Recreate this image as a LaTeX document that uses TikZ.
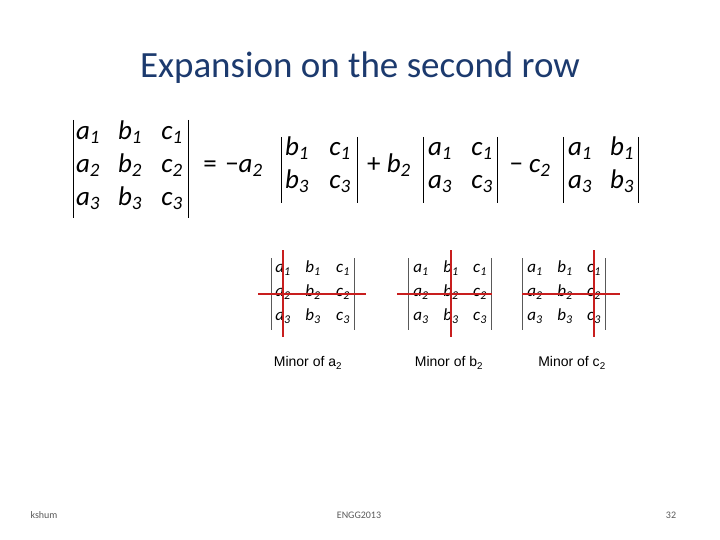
\documentclass[tikz,border=0pt]{standalone}
\usepackage{fontspec}
\setmainfont{Carlito}
\newfontfamily\arialf{Liberation Sans}
\definecolor{titleblue}{RGB}{28,58,110}
\definecolor{redline}{RGB}{200,30,30}
\begin{document}
\begin{tikzpicture}[x=1pt,y=-1pt,
  big/.style={font=\fontsize{27}{27}\selectfont\itshape, inner sep=0pt, text height=0.7em, text depth=0.15em},
  bigop/.style={font=\fontsize{27}{27}\selectfont, inner sep=0pt, text height=0.7em, text depth=0.15em},
  sm/.style={font=\fontsize{17}{17}\selectfont\itshape, inner sep=0pt, text height=0.7em, text depth=0.15em},
  bar/.style={line width=0.9pt},
  sbar/.style={line width=0.5pt, gray!70!black},
  cross/.style={redline, line width=1.6pt},
  lab/.style={font=\arialf\fontsize{14}{14}\selectfont, inner sep=0pt},
  foot/.style={font=\fontsize{10}{10}\selectfont, gray!70!black, inner sep=0pt}]
\useasboundingbox (0,0) rectangle (720,540);
\node[font=\fontsize{37}{37}\selectfont, titleblue] (title) at (360,68) {Expansion on the second row};
% main determinant
\foreach \r/\y in {1/137,2/170,3/203}{
  \node[big] (ma\r) at (88,\y) {a\textsubscript{\r}};
  \node[big] (mb\r) at (130,\y) {b\textsubscript{\r}};
  \node[big] (mc\r) at (172,\y) {c\textsubscript{\r}};
}
\draw[bar] (73,120) -- (73,218);
\draw[bar] (188,120) -- (188,218);
\node[bigop] (eq) at (210,170) {=};
\node[big] (t1) at (244,170) {\upshape−\itshape a\textsubscript{2}};
\draw[bar] (281,137) -- (281,203);
\draw[bar] (357,137) -- (357,203);
\node[big] (p1) at (297,153) {b\textsubscript{1}};
\node[big] (p2) at (340,153) {c\textsubscript{1}};
\node[big] (p3) at (297,186) {b\textsubscript{3}};
\node[big] (p4) at (340,186) {c\textsubscript{3}};
\node[big] (t2) at (389,170) {\upshape+ \itshape b\textsubscript{2}};
\draw[bar] (423,137) -- (423,203);
\draw[bar] (497,137) -- (497,203);
\node[big] (q1) at (440,153) {a\textsubscript{1}};
\node[big] (q2) at (482,153) {c\textsubscript{1}};
\node[big] (q3) at (440,186) {a\textsubscript{3}};
\node[big] (q4) at (482,186) {c\textsubscript{3}};
\node[big] (t3) at (530,170) {\upshape− \itshape c\textsubscript{2}};
\draw[bar] (563,137) -- (563,203);
\draw[bar] (638,137) -- (638,203);
\node[big] (s1) at (580,153) {a\textsubscript{1}};
\node[big] (s2) at (622,153) {b\textsubscript{1}};
\node[big] (s3) at (580,186) {a\textsubscript{3}};
\node[big] (s4) at (622,186) {b\textsubscript{3}};
% small minors
\foreach \n/\xa/\xb/\xc/\bl/\br in {A/283/313/343/271/354, B/421/451/480/408/491, C/535/565/594/522/605}{
  \draw[sbar] (\bl,258) -- (\bl,330);
  \draw[sbar] (\br,258) -- (\br,330);
  \foreach \r/\y in {1/270,2/294,3/318}{
    \node[sm] (\n a\r) at (\xa,\y) {a\textsubscript{\r}};
    \node[sm] (\n b\r) at (\xb,\y) {b\textsubscript{\r}};
    \node[sm] (\n c\r) at (\xc,\y) {c\textsubscript{\r}};
  }
}
\draw[cross] (258,294) -- (366,294);
\draw[cross] (283,250) -- (283,337);
\draw[cross] (397,294) -- (492,294);
\draw[cross] (451,250) -- (451,337);
\draw[cross] (522,294) -- (620,294);
\draw[cross] (594,250) -- (594,337);
\node[lab] (l1) at (308,363) {Minor of a\textsubscript{2}};
\node[lab] (l2) at (449,363) {Minor of b\textsubscript{2}};
\node[lab] (l3) at (572,363) {Minor of c\textsubscript{2}};
\node[foot] (f1) at (44,515) {kshum};
\node[foot] (f2) at (359,515) {ENGG2013};
\node[foot] (f3) at (671,515) {32};
\end{tikzpicture}
\end{document}
